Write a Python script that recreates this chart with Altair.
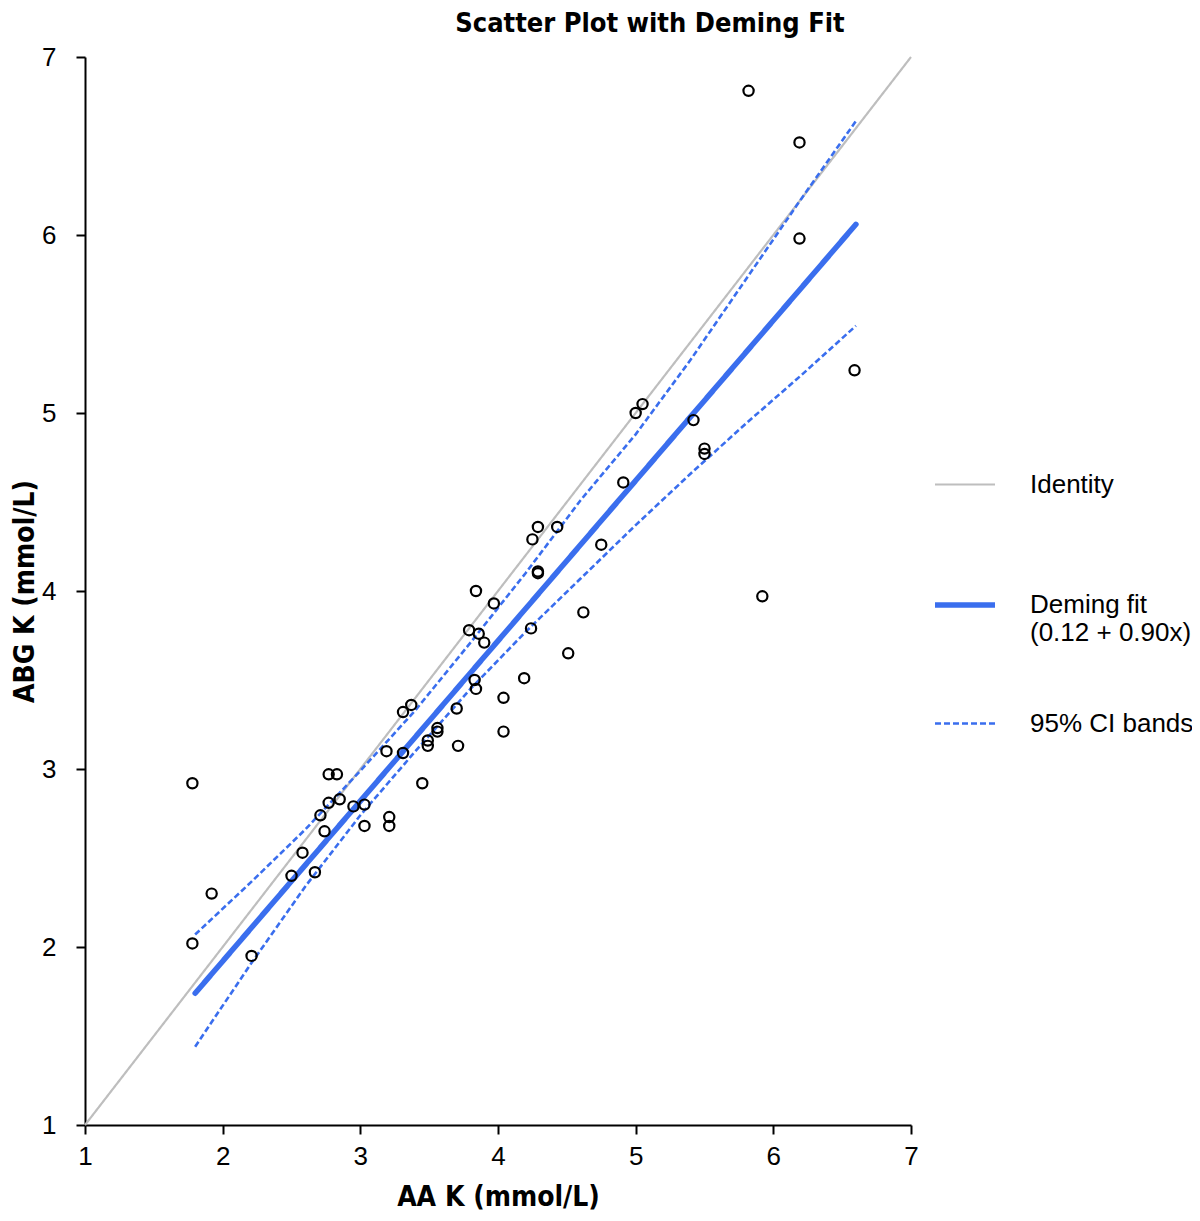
import altair as alt
import pandas as pd

# ---- data ----
aa_k = [5.82, 6.19, 6.19, 6.59, 5.92, 5.42, 5.50, 5.50, 5.05, 5.00,
        4.91, 4.75, 4.62, 4.51, 4.43, 4.29, 4.25, 4.29, 4.29, 4.24,
        4.19, 4.04, 4.04, 3.97, 3.84, 3.79, 3.86, 3.90, 3.83, 3.84,
        3.70, 3.71, 3.56, 3.56, 3.49, 3.49, 3.45, 3.37, 3.31, 3.31,
        3.19, 3.21, 3.21, 3.03, 3.03, 2.95, 2.85, 2.83, 2.77, 2.77,
        2.71, 2.74, 2.67, 2.58, 2.50, 1.78, 1.92, 1.78, 2.21]
abg_k = [6.81, 6.52, 5.98, 5.24, 3.97, 4.96, 4.80, 4.77, 5.05, 5.00,
         4.61, 4.26, 3.88, 3.65, 4.36, 4.36, 4.29, 4.11, 4.10, 3.79,
         3.51, 3.40, 3.21, 3.93, 4.00, 3.78, 3.76, 3.71, 3.50, 3.45,
         3.34, 3.13, 3.23, 3.21, 3.16, 3.13, 2.92, 3.36, 3.32, 3.09,
         3.10, 2.73, 2.68, 2.80, 2.68, 2.79, 2.83, 2.97, 2.97, 2.81,
         2.74, 2.65, 2.42, 2.53, 2.40, 2.92, 2.30, 2.02, 1.95]

identity_x = [1.0, 7.0]
identity_y = [1.0, 7.0]

fit_x = [1.8, 6.6]
fit_y = [1.74, 6.06]

band_x = [1.8, 2.2, 2.6, 3.0, 3.4, 3.8, 4.2, 4.6, 5.0, 5.4, 5.8, 6.2, 6.6]
band_upper = [2.07, 2.36, 2.66, 2.99, 3.33, 3.71, 4.10, 4.51, 4.88, 5.30, 5.75, 6.20, 6.64]
band_lower = [1.44, 1.90, 2.34, 2.74, 3.10, 3.45, 3.77, 4.07, 4.37, 4.66, 4.94, 5.21, 5.49]

# "|" marks a line break in the legend label
series_names = ["Identity|", "Deming fit|(0.12 + 0.90x)", "95% CI bands"]
series_colors = ["#BEBEBE", "#3A6EEE", "#3A6EEE"]
series_dash = [[1, 0], [1, 0], [6, 3]]
series_width = [2.2, 5.5, 2.6]
axis_ticks = [1, 2, 3, 4, 5, 6, 7]

# ---- tables ----
rows = []
for x, y in zip(identity_x, identity_y):
    rows.append({"x": x, "y": y, "series": series_names[0], "part": "identity"})
for x, y in zip(fit_x, fit_y):
    rows.append({"x": x, "y": y, "series": series_names[1], "part": "fit"})
for x, y in zip(band_x, band_upper):
    rows.append({"x": x, "y": y, "series": series_names[2], "part": "upper"})
for x, y in zip(band_x, band_lower):
    rows.append({"x": x, "y": y, "series": series_names[2], "part": "lower"})
lines_df = pd.DataFrame(rows)
pts_df = pd.DataFrame({"aa": aa_k, "abg": abg_k})

FONT = "Liberation Sans, Arial, Helvetica, sans-serif"
BOLDFONT = "Liberation Sans Narrow, DejaVu Sans Condensed, Liberation Sans, sans-serif"

xscale = alt.Scale(domain=[1, 7], nice=False, zero=False)
yscale = alt.Scale(domain=[1, 7], nice=False, zero=False)

xaxis = alt.Axis(title="AA K (mmol/L)", values=axis_ticks, format="d", grid=False,
                 domainColor="black", domainWidth=2, tickColor="black", tickWidth=2,
                 tickSize=9, labelFontSize=26, labelFont=FONT, labelColor="black",
                 labelPadding=9, titleFont=BOLDFONT, titleFontSize=28,
                 titleFontWeight="bold", titleColor="black", titlePadding=14,
                 labelFlush=False)
yaxis = alt.Axis(title="ABG K (mmol/L)", values=axis_ticks, format="d", grid=False,
                 domainColor="black", domainWidth=2, tickColor="black", tickWidth=2,
                 tickSize=9, labelFontSize=26, labelFont=FONT, labelColor="black",
                 labelPadding=20, titleFont=BOLDFONT, titleFontSize=28,
                 titleFontWeight="bold", titleColor="black", titlePadding=2,
                 labelFlush=False)

legend = alt.Legend(title=None, orient="none", legendX=847, legendY=396,
                    symbolType="stroke", symbolSize=3600, labelFont=FONT,
                    labelFontSize=26, labelColor="black", labelOffset=32,
                    rowPadding=46, labelLimit=400, labelBaseline="middle",
                    labelExpr="split(datum.label, '|')")

enc = dict(
    x=alt.X("x:Q", scale=xscale, axis=xaxis),
    y=alt.Y("y:Q", scale=yscale, axis=yaxis),
    color=alt.Color("series:N", scale=alt.Scale(domain=series_names, range=series_colors), legend=legend),
    strokeDash=alt.StrokeDash("series:N", scale=alt.Scale(domain=series_names, range=series_dash), legend=legend),
    strokeWidth=alt.StrokeWidth("series:N", scale=alt.Scale(type="ordinal", domain=series_names, range=series_width), legend=legend),
    detail="part:N",
)

base = alt.Chart(lines_df)
thin_lines = base.transform_filter("datum.part != 'fit'").mark_line(strokeCap="butt").encode(**enc)
fit_line = base.transform_filter("datum.part == 'fit'").mark_line(strokeCap="round").encode(**enc)

points = alt.Chart(pts_df).mark_point(shape="circle", filled=False, color="black",
                                      strokeWidth=2.2, size=105, opacity=1).encode(
    x=alt.X("aa:Q", scale=xscale),
    y=alt.Y("abg:Q", scale=yscale),
)

chart = alt.layer(thin_lines, fit_line, points).properties(
    width=826, height=1068,
    background="white",
    autosize=alt.AutoSizeParams(type="none"),
    padding={"left": 77, "top": 49, "right": 281, "bottom": 88},
    title=alt.TitleParams("Scatter Plot with Deming Fit", font=BOLDFONT, fontSize=27,
                          fontWeight="bold", color="black", anchor="middle", dx=152, offset=6),
).configure_view(stroke=None)

chart.save("out.html", embed_options={"renderer": "svg", "actions": False})
